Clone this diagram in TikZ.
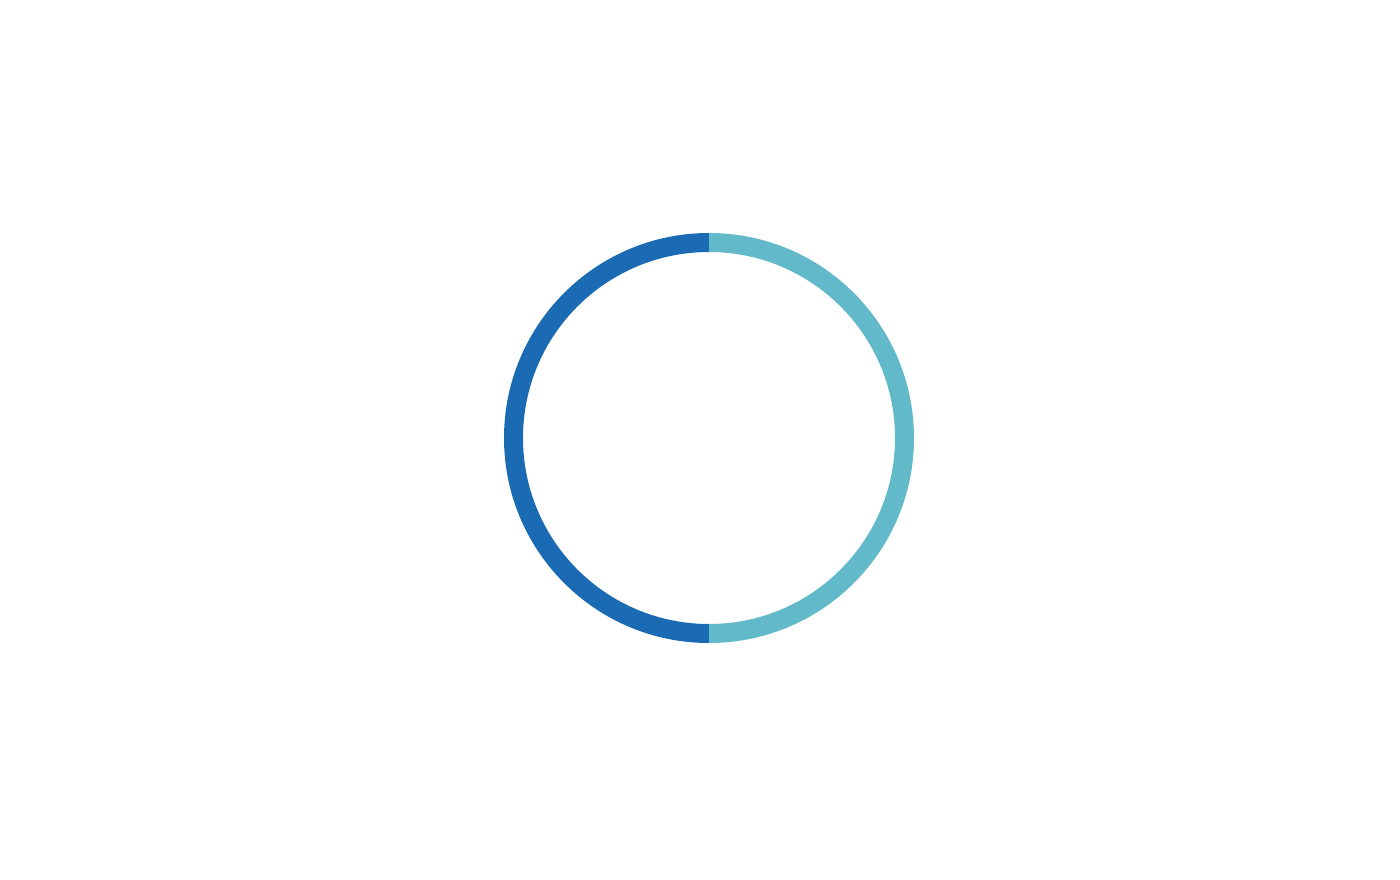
\documentclass[tikz,border=0pt]{standalone}
\definecolor{darkseg}{HTML}{1A6BB4}
\definecolor{lightseg}{HTML}{62B9C9}
\begin{document}
\begin{tikzpicture}[x=1pt,y=-1pt]
\useasboundingbox (0,0) rectangle (1400,880);
\coordinate (c) at (709,438);
\fill[darkseg] (709,233) arc[start angle=-90,end angle=-270,radius=205] -- (709,624) arc[start angle=-270,end angle=-90,radius=186] -- cycle;
\fill[lightseg] (709,233) arc[start angle=-90,end angle=90,radius=205] -- (709,624) arc[start angle=90,end angle=-90,radius=186] -- cycle;
\end{tikzpicture}
\end{document}
